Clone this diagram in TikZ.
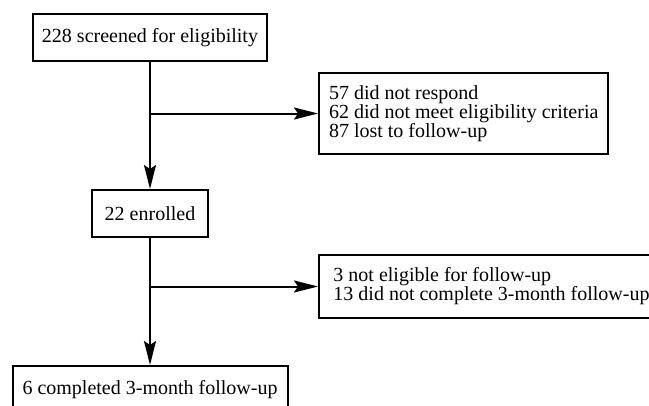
\documentclass[tikz,border=0pt]{standalone}
\usepackage{fontspec}
\setmainfont{Liberation Serif}
\usetikzlibrary{arrows.meta}
\tikzset{
	flow chart/.cd,
	box/.style = {
		draw,
		line width = 2pt,
		inner sep = 0pt,
		font = \rmfamily\fontsize{20}{19}\selectfont
	},
	list box/.style = {
		flow chart/box,
		align = left,
		inner xsep = 10pt,
		anchor = west
	},
	arrow/.style = {
		line width = 2pt,
		-{Stealth[length = 24pt, width = 12pt, inset = 4pt]}
	},
}

\begin{document}
\begin{tikzpicture}[x = 1pt, y = -1pt]
	\useasboundingbox (0, 0) rectangle (649, 405);
	\clip (0, 0) rectangle (649, 405);
	\node[flow chart/box, minimum width = 234pt, minimum height = 47pt] (screened) at (150, 37.5) {228 screened for eligibility};
	\node[flow chart/list box, minimum width = 289pt, minimum height = 81pt] (excluded) at (318, 113.5) {57 did not respond\\62 did not meet eligibility criteria\\87 lost to follow-up};
	\node[flow chart/box, minimum width = 116pt, minimum height = 47pt] (enrolled) at (150, 213.5) {22 enrolled};
	\node[flow chart/list box, minimum width = 345pt, minimum height = 63pt] (dropped) at (318, 286.5) {3 not eligible for follow-up\\13 did not complete 3-month follow-up};
	\node[flow chart/box, minimum width = 275pt, minimum height = 47pt, anchor = north] (completed) at (150, 365) {6 completed 3-month follow-up};
	% branch points on the main line
	\coordinate (split1) at (screened.south |- excluded.west);
	\coordinate (split2) at (enrolled.south |- dropped.west);
	\begin{scope}[flow chart/arrow]
		\draw (screened.south) -- (enrolled.north);
		\draw (split1) -- (excluded.west);
		\draw (enrolled.south) -- (completed.north);
		\draw (split2) -- (dropped.west);
	\end{scope}
\end{tikzpicture}
\end{document}
